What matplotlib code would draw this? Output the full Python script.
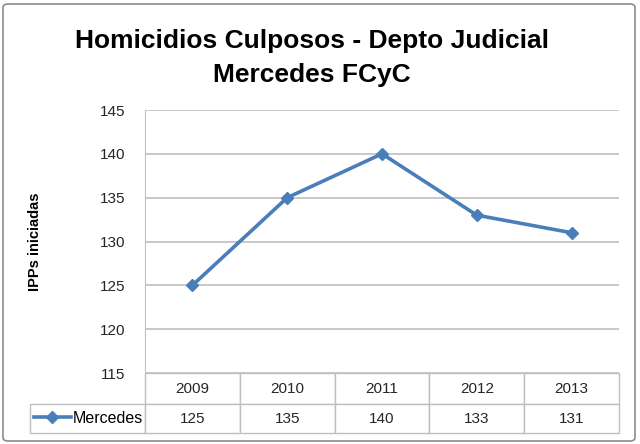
import matplotlib
matplotlib.use("Agg")
import matplotlib.pyplot as plt
from matplotlib.patches import FancyBboxPatch

plt.rcParams['font.family'] = ['Liberation Sans Narrow', 'Liberation Sans', 'DejaVu Sans']

years = ["2009", "2010", "2011", "2012", "2013"]
mercedes = [125, 135, 140, 133, 131]
series_name = "Mercedes"
title = "Homicidios Culposos - Depto Judicial\nMercedes FCyC"
y_label = "IPPs iniciadas"

line_color = "#4A7EBB"
grid_color = "#BFBFBF"

fig = plt.figure(figsize=(6.4, 4.44), dpi=100)
W, H = 640.0, 444.0

# outer chart border
fig.patches.append(FancyBboxPatch((3 / W, 3 / H), 632 / W, 437 / H,
                                  boxstyle="round,pad=0,rounding_size=0.008",
                                  transform=fig.transFigure, facecolor="none",
                                  edgecolor="#8C8C8C", linewidth=1.2))

ax = fig.add_axes([145 / W, 71 / H, 474 / W, 263 / H])
x = range(len(years))
ax.plot(x, mercedes, color=line_color, linewidth=2.6, marker="D", markersize=6.5,
        label=series_name)
ax.set_xlim(-0.5, len(years) - 0.5)
ax.set_ylim(115, 145)
ax.set_yticks(range(115, 146, 5))
ax.set_xticks([])
ax.yaxis.grid(True, color=grid_color, linewidth=1.2)
ax.set_axisbelow(True)
for s in ["top", "right", "bottom"]:
    ax.spines[s].set_visible(False)
ax.spines["left"].set_color(grid_color)
ax.tick_params(axis="y", length=0, labelsize=11, pad=14, labelcolor="#262626")
ax.set_ylabel(y_label, fontsize=10.5, fontweight="bold", labelpad=42)

# data table under the axis; first column holds the legend key
lab_w = 115 / 474
tab_h = 60 / 263
tbl = ax.table(cellText=[[""] + [str(v) for v in mercedes]], colLabels=[""] + years,
               colWidths=[lab_w] + [1 / len(years)] * len(years), cellLoc="center",
               bbox=[-lab_w, -tab_h, 1 + lab_w, tab_h])
tbl.auto_set_font_size(False)
tbl.set_fontsize(11)
for (r, c), cell in tbl.get_celld().items():
    cell.set_edgecolor(grid_color)
    cell.set_linewidth(1.0)
    cell.get_text().set_color("#262626")
    cell.set_height((31 if r == 0 else 29) / 263)
tbl[0, 0].set_visible(False)

ax.legend(loc="center left", bbox_to_anchor=(-lab_w + 4 / 474, -45.5 / 263),
          frameon=False, fontsize=11.5, handlelength=2.3, handletextpad=0.15,
          borderpad=0, borderaxespad=0, markerscale=0.9)

fig.text(312 / W, 1 - 58 / H, title, ha="center", va="center", fontsize=19,
         fontweight="bold", linespacing=1.55, color="black")

fig.savefig("out.png", dpi=100, facecolor="white")
